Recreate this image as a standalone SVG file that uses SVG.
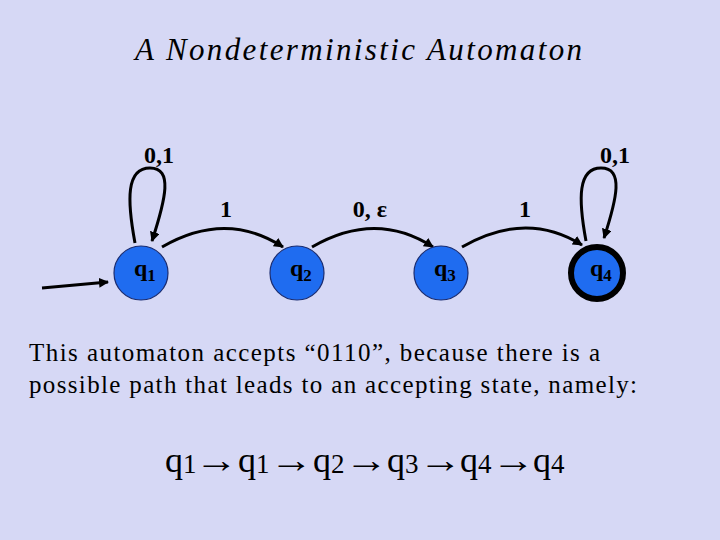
<svg xmlns="http://www.w3.org/2000/svg" width="720" height="540" viewBox="0 0 720 540" font-family="'Liberation Serif', 'Times New Roman', 'DejaVu Serif', serif">
<defs>
<marker id="ah" viewBox="0 0 10 10" refX="9" refY="5" markerWidth="10" markerHeight="10" markerUnits="userSpaceOnUse" orient="auto">
<path d="M0,0 L10,5 L0,10 Z" fill="#000"/>
</marker>
</defs>
<style>
text{font-family:'Liberation Serif','Times New Roman','DejaVu Serif',serif}
.bg{fill:#d6d8f5}
.node{fill:#1f6cf0;stroke:#1a2c70;stroke-width:1.2}
.acc{fill:#1f6cf0;stroke:#000;stroke-width:6}
.edge{fill:none;stroke:#000;stroke-width:3;marker-end:url(#ah)}
.nl{font-weight:bold;font-size:24px;fill:#000}
.sub{font-size:17px}
.el{font-weight:bold;font-size:24px;fill:#000;text-anchor:middle}
.title{font-style:italic;font-size:31px;fill:#000}
.body{font-size:25px;fill:#000}
.path{font-size:36px;fill:#000}
.ps{font-size:27px}
</style>
<rect class="bg" x="0" y="0" width="720" height="540"/>
<text class="title" x="135" y="60" textLength="447" lengthAdjust="spacing">A Nondeterministic Automaton</text>

<g id="connectors">
<path class="edge" d="M42,288 L108,282"/>
<path class="edge" d="M135,243 C127,200 126,168 150,168 C173,168 166,198 152,241"/>
<path class="edge" d="M162,247 Q226,210 283,247"/>
<path class="edge" d="M312,247 Q376,210 433,247"/>
<path class="edge" d="M462,247 Q526,210 582,245"/>
<path class="edge" d="M586,241 C578,198 578,168 601,168 C624,168 617,198 604,238"/>
<text class="el" x="159" y="163">0,1</text>
<text class="el" x="226" y="217">1</text>
<text class="el" x="370" y="217">0, ε</text>
<text class="el" x="525" y="217">1</text>
<text class="el" x="615" y="163">0,1</text>
</g>

<g id="q1">
<circle class="node" cx="141" cy="273" r="27"/>
<text class="nl" x="134" y="276">q<tspan class="sub" dy="5">1</tspan></text>
</g>
<g id="q2">
<circle class="node" cx="297" cy="273" r="27"/>
<text class="nl" x="290" y="276">q<tspan class="sub" dy="5">2</tspan></text>
</g>
<g id="q3">
<circle class="node" cx="441" cy="273" r="27"/>
<text class="nl" x="434" y="276">q<tspan class="sub" dy="5">3</tspan></text>
</g>
<g id="q4">
<circle class="acc" cx="597" cy="273" r="26"/>
<text class="nl" x="590" y="276">q<tspan class="sub" dy="5">4</tspan></text>
</g>

<text class="body" x="29" y="361" textLength="571" lengthAdjust="spacing">This automaton accepts  “0110”, because there is a</text>
<text class="body" x="29" y="393" textLength="608" lengthAdjust="spacing">possible path that leads to an accepting state, namely:</text>

<g class="path">
<text x="165" y="472">q<tspan class="ps" dy="1">1</tspan></text>
<text transform="translate(195,472) scale(1.2,1)">→</text>
<text x="238" y="472">q<tspan class="ps" dy="1">1</tspan></text>
<text transform="translate(270,472) scale(1.2,1)">→</text>
<text x="313" y="472">q<tspan class="ps" dy="1">2</tspan></text>
<text transform="translate(345,472) scale(1.2,1)">→</text>
<text x="387" y="472">q<tspan class="ps" dy="1">3</tspan></text>
<text transform="translate(419,472) scale(1.2,1)">→</text>
<text x="460" y="472">q<tspan class="ps" dy="1">4</tspan></text>
<text transform="translate(492,472) scale(1.2,1)">→</text>
<text x="533" y="472">q<tspan class="ps" dy="1">4</tspan></text>
</g>
</svg>
